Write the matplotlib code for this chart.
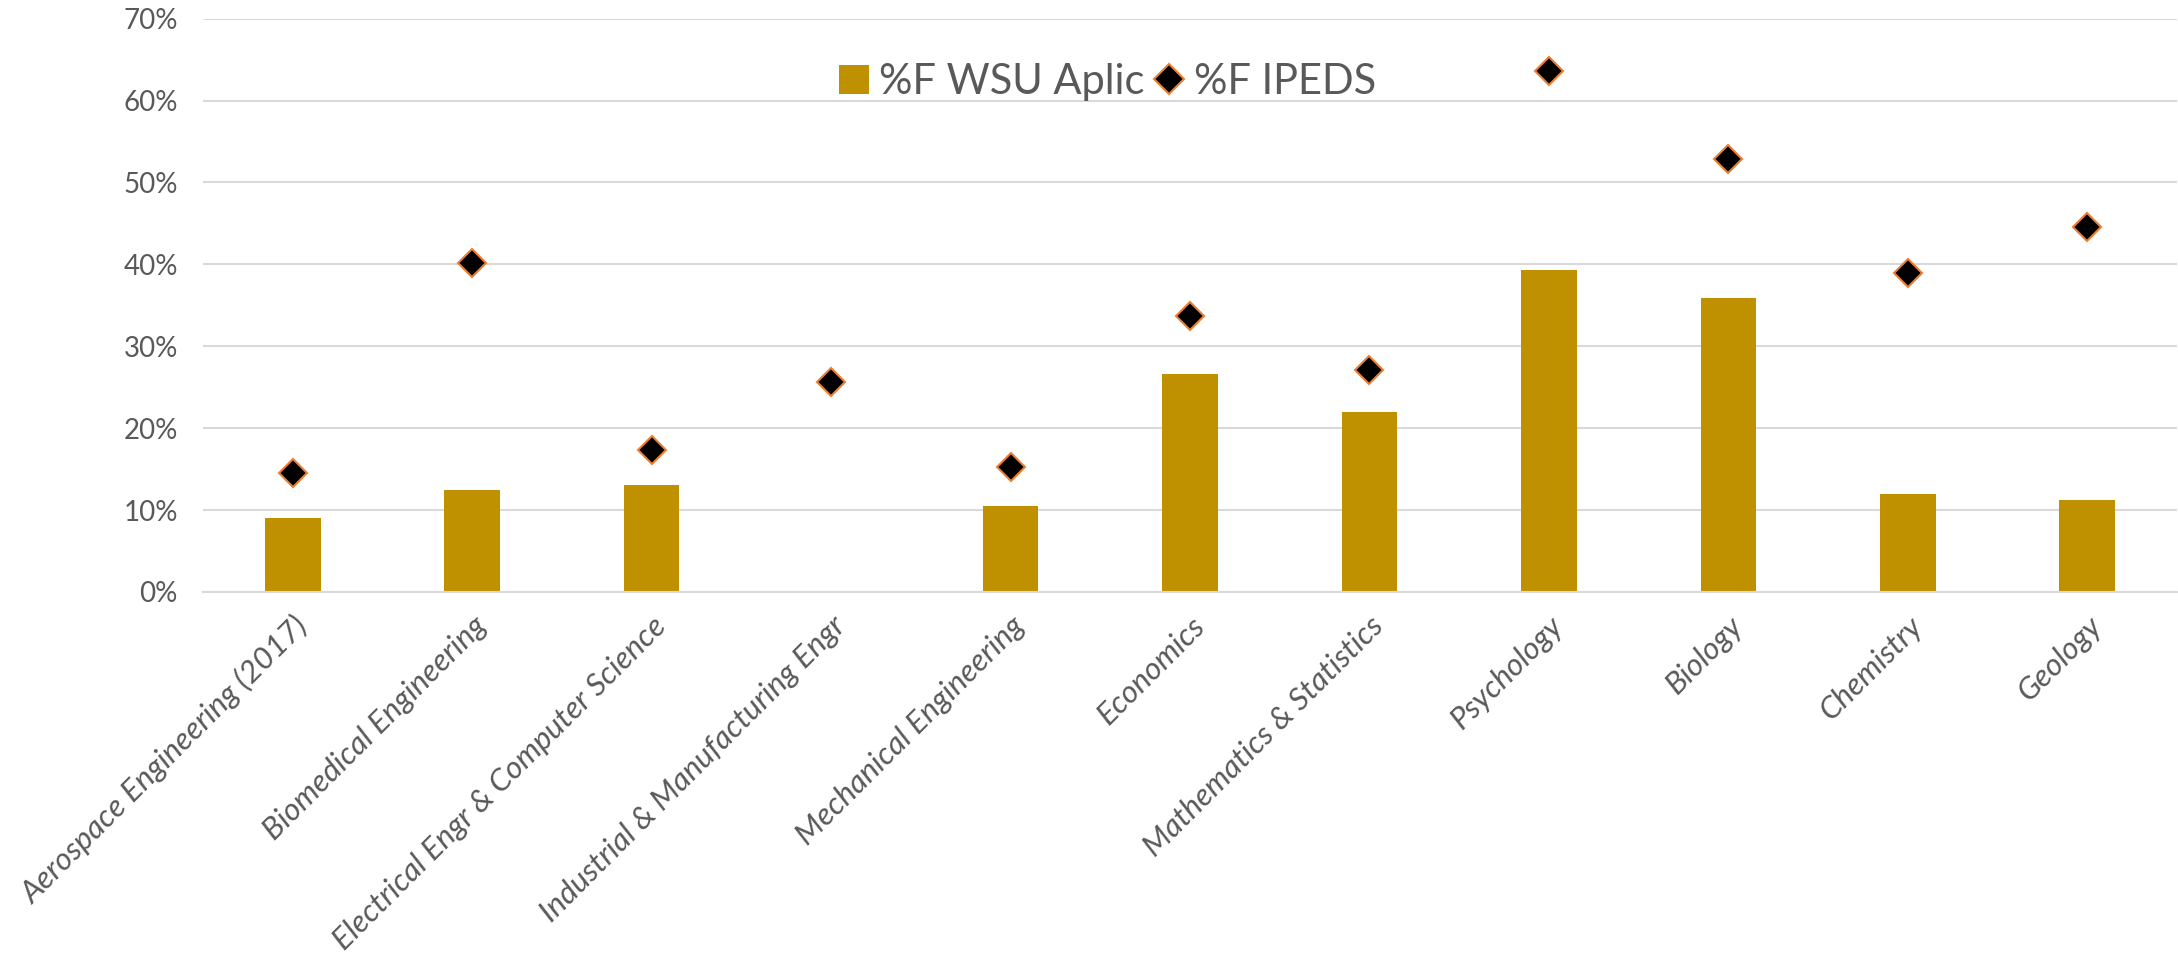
import matplotlib
matplotlib.use("Agg")
import matplotlib.pyplot as plt
from matplotlib.lines import Line2D
from matplotlib.patches import Patch
from matplotlib.ticker import FuncFormatter, MultipleLocator
import numpy as np

categories = [
    "Aerospace Engineering (2017)",
    "Biomedical Engineering",
    "Electrical Engr & Computer Science",
    "Industrial & Manufacturing Engr",
    "Mechanical Engineering",
    "Economics",
    "Mathematics & Statistics",
    "Psychology",
    "Biology",
    "Chemistry",
    "Geology",
]
wsu_aplic = [0.090, 0.125, 0.1305, np.nan, 0.105, 0.266, 0.220, 0.393, 0.359, 0.120, 0.112]
ipeds = [0.145, 0.402, 0.173, 0.256, 0.1525, 0.337, 0.271, 0.636, 0.528, 0.390, 0.445]

TEXT = "#595959"
GOLD = "#BF9000"
ORANGE = "#ED7D31"
GRID = "#D9D9D9"

plt.rcParams['font.family'] = ['Lato', 'DejaVu Sans']

fig = plt.figure(figsize=(21.78, 9.55), dpi=100)
ax = fig.add_axes([203/2178, 363/955, (2177-203)/2178, (592-18.6)/955])

x = np.arange(len(categories))
ax.bar(x, wsu_aplic, width=0.31, color=GOLD, zorder=2)
ax.plot(x, ipeds, linestyle='none', marker='D', markersize=14.5,
        markerfacecolor='black', markeredgecolor=ORANGE, markeredgewidth=1.5, zorder=3)

ax.set_xlim(-0.5, len(categories) - 0.5)
ax.set_ylim(0, 0.7)
ax.yaxis.set_major_locator(MultipleLocator(0.1))
ax.yaxis.set_major_formatter(FuncFormatter(lambda v, p: f"{v*100:.0f}%"))
ax.grid(axis='y', color=GRID, linewidth=1.5, zorder=0)
ax.set_axisbelow(True)
for s in ['top', 'right', 'left']:
    ax.spines[s].set_visible(False)
ax.spines['bottom'].set_color(GRID)
ax.spines['bottom'].set_linewidth(1.5)
ax.tick_params(axis='both', length=0, colors=TEXT)
ax.tick_params(axis='y', labelsize=20, pad=18)
ax.set_xticks(x)
ax.set_xticklabels(categories, rotation=45, ha='right', rotation_mode='anchor',
                   fontsize=22.5, style='italic', color=TEXT)
ax.tick_params(axis='x', pad=14)

handles = [
    Patch(facecolor=GOLD, edgecolor='none', label='%F WSU Aplic'),
    Line2D([], [], linestyle='none', marker='D', markersize=15,
           markerfacecolor='black', markeredgecolor=ORANGE, markeredgewidth=1.5,
           label='%F IPEDS'),
]
leg = fig.legend(handles=handles, loc='center', bbox_to_anchor=(1108/2178, 1 - 82/955),
                 ncol=2, frameon=False, fontsize=30, handlelength=0.7, handleheight=0.7,
                 handletextpad=0.25, columnspacing=0.25, labelcolor=TEXT,
                 borderaxespad=0, borderpad=0.2)

fig.savefig("out.png", dpi=100)
